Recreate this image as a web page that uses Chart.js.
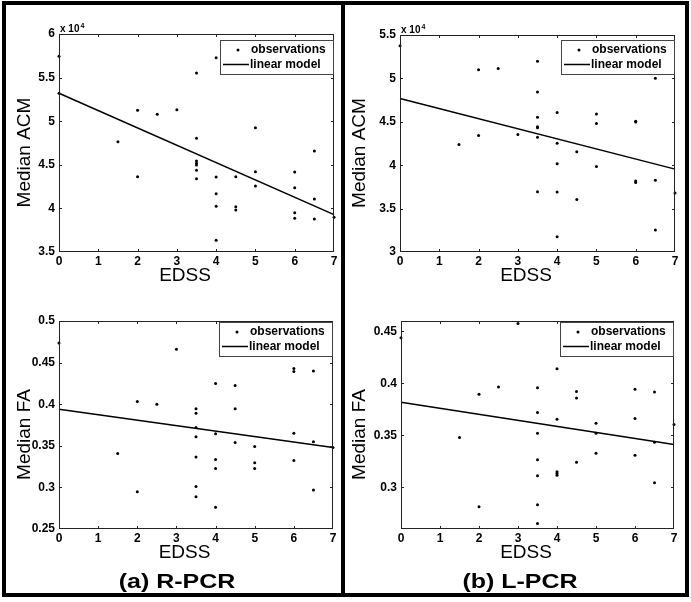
<!DOCTYPE html>
<html>
<head>
<meta charset="utf-8">
<title>EDSS vs median ACM / FA</title>
<script src="https://cdn.jsdelivr.net/npm/chart.js@4.4.1/dist/chart.umd.min.js"></script>
<style>
    body { margin: 0; width: 691px; height: 602px; background: #fff; position: relative; overflow: hidden; font-family: "Liberation Sans", Arial, sans-serif; }
    #frame { position: absolute; left: 2px; top: 1px; width: 679px; height: 588px; border: 4px solid #000; }
    #divider { position: absolute; left: 341px; top: 1px; width: 4px; height: 596px; background: #000; }
    canvas { position: absolute; }
    .caption { position: absolute; top: 567px; width: 200px; text-align: center; font-weight: bold; font-size: 21px; line-height: 28px; transform: scaleX(1.19); color: #000; }
</style>
</head>
<body>
<div id="frame"></div>
<div id="divider"></div>
<canvas id="acm-r" width="335" height="290" style="left:6px;top:5px"></canvas>
<canvas id="acm-l" width="340" height="290" style="left:345px;top:5px"></canvas>
<canvas id="fa-r" width="335" height="270" style="left:6px;top:300px"></canvas>
<canvas id="fa-l" width="340" height="270" style="left:345px;top:300px"></canvas>
<div class="caption" style="left:77px">(a) R-PCR</div>
<div class="caption" style="left:420px">(b) L-PCR</div>

<script>
// observations (EDSS, value). ACM values are in units of 10^4
const edssAcmR = [0, 0, 1.5, 2, 2, 2.5, 3, 3.5, 3.5, 3.5, 3.5, 3.5, 3.5, 3.5, 4, 4, 4, 4, 4, 4.5, 4.5, 4.5, 5, 5, 5, 6, 6, 6, 6, 6.5, 6.5, 6.5, 7]
const acmR = [5.744, 5.32, 4.765, 5.125, 4.364, 5.079, 5.132, 5.553, 4.804, 4.544, 4.517, 4.498, 4.437, 4.341, 5.729, 4.36, 4.169, 4.024, 3.634, 4.364, 4.02, 3.982, 4.926, 4.421, 4.257, 4.417, 4.238, 3.951, 3.886, 4.658, 4.108, 3.878, 3.898]

const edssAcmL = [0, 1.5, 2, 2, 2.5, 3, 3.5, 3.5, 3.5, 3.5, 3.5, 3.5, 3.5, 4, 4, 4, 4, 4, 4.5, 4.5, 5, 5, 5, 6, 6, 6, 6, 6.5, 6.5, 6.5, 7]
const acmL = [5.377, 4.238, 5.101, 4.342, 5.113, 4.354, 5.197, 4.844, 4.553, 4.442, 4.432, 4.323, 3.694, 4.607, 4.254, 4.016, 3.69, 3.176, 4.154, 3.606, 4.591, 4.48, 3.985, 4.507, 4.499, 3.817, 3.801, 5.002, 3.828, 3.253, 3.679]

const edssFaR = [0, 1.5, 2, 2, 2.5, 3, 3.5, 3.5, 3.5, 3.5, 3.5, 3.5, 3.5, 4, 4, 4, 4, 4, 4.5, 4.5, 4.5, 5, 5, 5, 6, 6, 6, 6, 6.5, 6.5, 6.5, 7]
const faR = [0.4736, 0.3408, 0.4032, 0.2948, 0.4, 0.466, 0.3944, 0.3892, 0.372, 0.3608, 0.3364, 0.3012, 0.2888, 0.4248, 0.3644, 0.3336, 0.3228, 0.276, 0.4224, 0.3944, 0.354, 0.3492, 0.3296, 0.3228, 0.4428, 0.4392, 0.3652, 0.3324, 0.44, 0.3548, 0.2968, 0.348]

const edssFaL = [0, 1.5, 2, 2, 2.5, 3, 3.5, 3.5, 3.5, 3.5, 3.5, 3.5, 3.5, 4, 4, 4, 4, 4, 4.5, 4.5, 4.5, 5, 5, 5, 6, 6, 6, 6.5, 6.5, 6.5, 7]
const faL = [0.444, 0.348, 0.3895, 0.2814, 0.3966, 0.4577, 0.3959, 0.3719, 0.3521, 0.3265, 0.3112, 0.2833, 0.2654, 0.4142, 0.3655, 0.315, 0.3134, 0.3118, 0.3921, 0.386, 0.3243, 0.3617, 0.3521, 0.3329, 0.3943, 0.3662, 0.331, 0.3918, 0.3435, 0.3044, 0.3604]

// linear model end points
const fitEdss = [0, 7]
const fitAcmR = [5.32, 3.928]
const fitAcmL = [4.768, 3.955]
const fitFaR = [0.394, 0.348]
const fitFaL = [0.3819, 0.3412]

// axis limits
const edssRange = [0, 7]
const acmRRange = [3.5, 6]
const acmLRange = [3, 5.5]
const faRRange = [0.25, 0.5]
const faLRange = [0.26, 0.46]

// tick labels
const edssTickVals = [0, 1, 2, 3, 4, 5, 6, 7]
const acmRTickVals = [3.5, 4, 4.5, 5, 5.5, 6]
const acmLTickVals = [3, 3.5, 4, 4.5, 5, 5.5]
const faRTickVals = [0.25, 0.3, 0.35, 0.4, 0.45, 0.5]
const faLTickVals = [0.3, 0.35, 0.4, 0.45]

const FONT = '"Liberation Sans", Arial, sans-serif'

function pts(xs, ys) {
    return xs.map((x, i) => ({ x: x, y: ys[i] }))
}

// matlab style box with ticks pointing inwards
const boxTicks = {
    id: 'boxTicks',
    afterDatasetsDraw(chart) {
        const { ctx, chartArea: a, scales } = chart
        ctx.save()
        ctx.strokeStyle = '#222'
        ctx.lineWidth = 1
        ctx.strokeRect(a.left + 0.5, a.top + 0.5, a.right - a.left - 1, a.bottom - a.top - 1)
        ctx.beginPath()
        scales.x.ticks.forEach(t => {
            const px = Math.min(Math.round(scales.x.getPixelForValue(t.value)), a.right - 1) + 0.5
            ctx.moveTo(px, a.bottom); ctx.lineTo(px, a.bottom - 3)
            ctx.moveTo(px, a.top); ctx.lineTo(px, a.top + 3)
        })
        scales.y.ticks.forEach(t => {
            const py = Math.min(Math.round(scales.y.getPixelForValue(t.value)), a.bottom - 1) + 0.5
            ctx.moveTo(a.left, py); ctx.lineTo(a.left + 3, py)
            ctx.moveTo(a.right, py); ctx.lineTo(a.right - 3, py)
        })
        ctx.stroke()
        ctx.restore()
    }
}

// legend box inside the plot, top right
const insideLegend = {
    id: 'insideLegend',
    afterDatasetsDraw(chart, args, opts) {
        const { ctx, chartArea: a } = chart
        const ds = chart.data.datasets
        const w = 113, h = 34
        const x = Math.round(a.right - 1.5 - w), y = Math.round(a.top + opts.top)
        ctx.save()
        ctx.fillStyle = '#fff'
        ctx.fillRect(x, y, w, h)
        ctx.strokeStyle = '#444'
        ctx.lineWidth = 1
        ctx.strokeRect(x + 0.5, y + 0.5, w, h)
        ctx.fillStyle = '#000'
        ctx.beginPath()
        ctx.arc(x + 18, y + 10, 1.5, 0, Math.PI * 2)
        ctx.fill()
        ctx.strokeStyle = '#000'
        ctx.lineWidth = 1.5
        ctx.beginPath()
        ctx.moveTo(x + 3, y + 24.5)
        ctx.lineTo(x + 29, y + 24.5)
        ctx.stroke()
        ctx.font = 'bold 12px ' + FONT
        ctx.textBaseline = 'middle'
        ctx.fillText(ds[0].label, x + 31, y + 10)
        ctx.fillText(ds[1].label, x + 30, y + 24.5)
        ctx.restore()
    }
}

// axis titles and the "x 10^4" multiplier
const axisText = {
    id: 'axisText',
    afterDraw(chart, args, opts) {
        const { ctx, chartArea: a } = chart
        ctx.save()
        ctx.fillStyle = '#000'
        ctx.font = '19px ' + FONT
        ctx.textAlign = 'center'
        ctx.textBaseline = 'middle'
        ctx.fillText(opts.xTitle, (a.left + a.right) / 2 - 11.5, a.bottom + 24)
        ctx.save()
        ctx.translate(a.left + opts.yTitleDx, (a.top + a.bottom) / 2 + 9.5)
        ctx.rotate(-Math.PI / 2)
        ctx.fillText(opts.yTitle, 0, 0)
        ctx.restore()
        if (opts.exponent) {
            ctx.textAlign = 'left'
            ctx.textBaseline = 'alphabetic'
            ctx.font = 'bold 10px ' + FONT
            ctx.fillText('x 10', a.left + 1, a.top - 2)
            const w = ctx.measureText('x 10').width
            ctx.font = 'bold 7px ' + FONT
            ctx.fillText(opts.exponent, a.left + 2 + w, a.top - 6)
        }
        ctx.restore()
    }
}

function tickLabel(v) {
    return String(+v.toFixed(4))
}

function makePanel(id, obsX, obsY, fitY, yRange, yTickVals, box, text) {
    const tickFont = { family: FONT, size: 12, weight: 'bold' }
    return new Chart(document.getElementById(id), {
        type: 'scatter',
        data: {
            datasets: [{
                label: 'observations',
                data: pts(obsX, obsY),
                backgroundColor: '#000',
                borderWidth: 0,
                pointRadius: 1.5,
                pointHoverRadius: 1.5,
                clip: false
            },
            {
                label: 'linear model',
                data: pts(fitEdss, fitY),
                showLine: true,
                borderColor: '#000',
                borderWidth: 1.5,
                pointRadius: 0,
                pointHoverRadius: 0,
                clip: false
            }]
        },
        options: {
            responsive: false,
            animation: false,
            events: [],
            layout: { padding: { top: box.top, right: box.right, left: 0, bottom: 0 } },
            scales: {
                x: {
                    type: 'linear',
                    min: edssRange[0],
                    max: edssRange[1],
                    grid: { display: false, drawTicks: false },
                    border: { display: false },
                    ticks: { color: '#000', font: tickFont, padding: 2, autoSkip: false, maxRotation: 0, callback: tickLabel },
                    afterBuildTicks(s) { s.ticks = edssTickVals.map(v => ({ value: v })) },
                    afterFit(s) { s.height = box.xHeight; s.paddingLeft = 0; s.paddingRight = 0 }
                },
                y: {
                    type: 'linear',
                    min: yRange[0],
                    max: yRange[1],
                    grid: { display: false, drawTicks: false },
                    border: { display: false },
                    ticks: { color: '#000', font: tickFont, padding: 4, autoSkip: false, callback: tickLabel },
                    afterBuildTicks(s) { s.ticks = yTickVals.map(v => ({ value: v })) },
                    afterFit(s) { s.width = box.yWidth; s.paddingTop = 0; s.paddingBottom = 0 }
                }
            },
            plugins: {
                legend: { display: false },
                tooltip: { enabled: false },
                insideLegend: { top: box.legendTop },
                axisText: text
            }
        },
        plugins: [boxTicks, insideLegend, axisText]
    })
}

makePanel('acm-r', edssAcmR, acmR, fitAcmR, acmRRange, acmRTickVals,
    { top: 29, right: 7, xHeight: 43, yWidth: 53, legendTop: 5.5 },
    { xTitle: 'EDSS', yTitle: 'Median ACM', yTitleDx: -34, exponent: '4' })
makePanel('acm-l', edssAcmL, acmL, fitAcmL, acmLRange, acmLTickVals,
    { top: 30, right: 10, xHeight: 43, yWidth: 55, legendTop: 5 },
    { xTitle: 'EDSS', yTitle: 'Median ACM', yTitleDx: -40.5, exponent: '4' })
makePanel('fa-r', edssFaR, faR, fitFaR, faRRange, faRTickVals,
    { top: 21, right: 8, xHeight: 41, yWidth: 53, legendTop: 0.5 },
    { xTitle: 'EDSS', yTitle: 'Median FA', yTitleDx: -34 })
makePanel('fa-l', edssFaL, faL, fitFaL, faLRange, faLTickVals,
    { top: 21, right: 11, xHeight: 41, yWidth: 56, legendTop: 0.5 },
    { xTitle: 'EDSS', yTitle: 'Median FA', yTitleDx: -41 })
</script>
</body>
</html>
